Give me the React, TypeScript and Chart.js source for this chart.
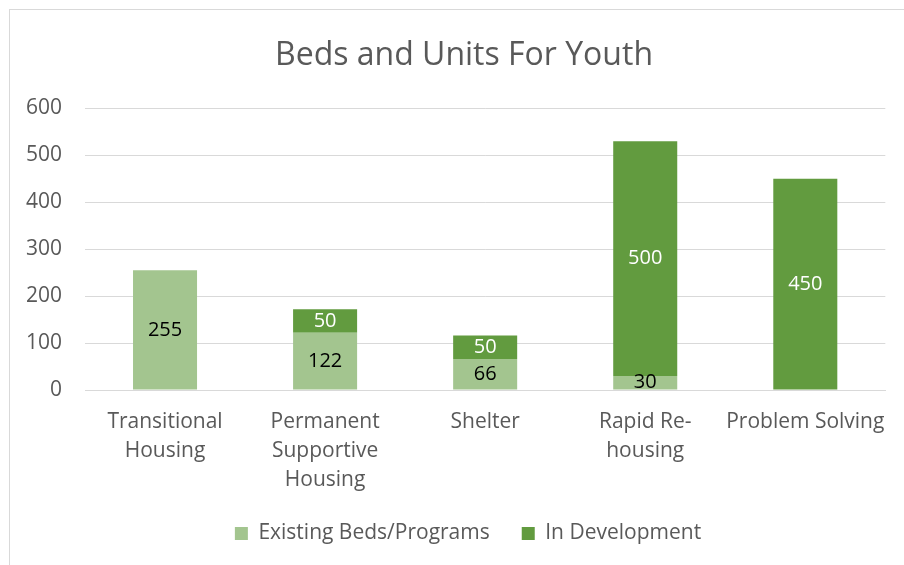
import React, { useEffect, useRef } from "react";
import { Chart, registerables } from "chart.js";

Chart.register(...registerables);

const categories: (string | string[])[] = [
  ["Transitional", "Housing"],
  ["Permanent", "Supportive", "Housing"],
  "Shelter",
  ["Rapid Re-", "housing"],
  "Problem Solving",
];
const existingBeds = [255, 122, 66, 30, 0];
const inDevelopment = [0, 50, 50, 500, 450];
const yTicks = [0, 100, 200, 300, 400, 500, 600];

const FONT = "'Open Sans', sans-serif";
const TEXT = "#595959";
const LIGHT = "#A3C58F";
const DARK = "#629B3F";

const labelPlugin = {
  id: "segLabels",
  afterLayout(chart: any) {
    const t = chart.titleBlock;
    if (t) {
      t.left += 10;
      t.right += 10;
    }
    const l = chart.legend;
    if (l) {
      l.left += 14;
      l.right += 14;
    }
  },
  afterDatasetsDraw(chart: any) {
    const ctx = chart.ctx;
    ctx.save();
    ctx.font = `20px ${FONT}`;
    ctx.textAlign = "center";
    ctx.textBaseline = "middle";
    chart.data.datasets.forEach((ds: any, di: number) => {
      const meta = chart.getDatasetMeta(di);
      meta.data.forEach((el: any, i: number) => {
        const v = ds.data[i];
        if (!v) return;
        ctx.fillStyle = di === 0 ? "#000000" : "#ffffff";
        ctx.fillText(String(v), el.x, (el.y + el.base) / 2);
      });
    });
    ctx.restore();
  },
};

export default function App() {
  const ref = useRef<HTMLCanvasElement>(null);
  useEffect(() => {
    if (!ref.current) return;
    const chart = new Chart(ref.current, {
      type: "bar",
      data: {
        labels: categories,
        datasets: [
          {
            label: "Existing Beds/Programs",
            data: existingBeds,
            backgroundColor: LIGHT,
            barPercentage: 1,
            categoryPercentage: 0.4,
          },
          {
            label: "In Development",
            data: inDevelopment,
            backgroundColor: DARK,
            barPercentage: 1,
            categoryPercentage: 0.4,
          },
        ],
      },
      options: {
        animation: false,
        responsive: false,
        maintainAspectRatio: false,
        layout: { padding: { left: 20, right: 16, top: 0, bottom: 11 } },
        plugins: {
          title: {
            display: true,
            text: "Beds and Units For Youth",
            color: TEXT,
            font: { family: FONT, size: 32, weight: "normal" as any, lineHeight: 1.2 },
            padding: { top: 37, bottom: 33 },
          },
          legend: {
            position: "bottom",
            labels: {
              color: TEXT,
              font: { family: FONT, size: 21 },
              boxWidth: 13,
              boxHeight: 13,
              padding: 32,
            },
          },
          tooltip: { enabled: false },
        },
        scales: {
          x: {
            stacked: true,
            grid: { display: false, drawTicks: false },
            border: { display: true, color: "#d9d9d9" },
            afterFit(scale: any) {
              scale.height = 101;
            },
            ticks: {
              color: TEXT,
              font: { family: FONT, size: 21, lineHeight: 1.38 },
              padding: 18,
              maxRotation: 0,
              autoSkip: false,
            },
          },
          y: {
            stacked: true,
            min: 0,
            max: 600,
            afterBuildTicks(scale: any) {
              scale.ticks = yTicks.map((v) => ({ value: v }));
            },
            afterFit(scale: any) {
              scale.width = 65;
            },
            grid: { color: "#d9d9d9", drawTicks: false },
            border: { display: false },
            ticks: {
              color: TEXT,
              font: { family: FONT, size: 21 },
              padding: 23,
            },
          },
        },
      },
      plugins: [labelPlugin],
    });
    return () => chart.destroy();
  }, []);
  return (
    <div>
      <div
        style={{
          position: "fixed",
          left: 9,
          top: 9,
          width: 1000,
          height: 1000,
          border: "1px solid #d9d9d9",
          boxSizing: "border-box",
        }}
      />
      <canvas
        ref={ref}
        width={904}
        height={565}
        style={{ position: "fixed", left: 0, top: 0, width: 904, height: 565 }}
      />
    </div>
  );
}
